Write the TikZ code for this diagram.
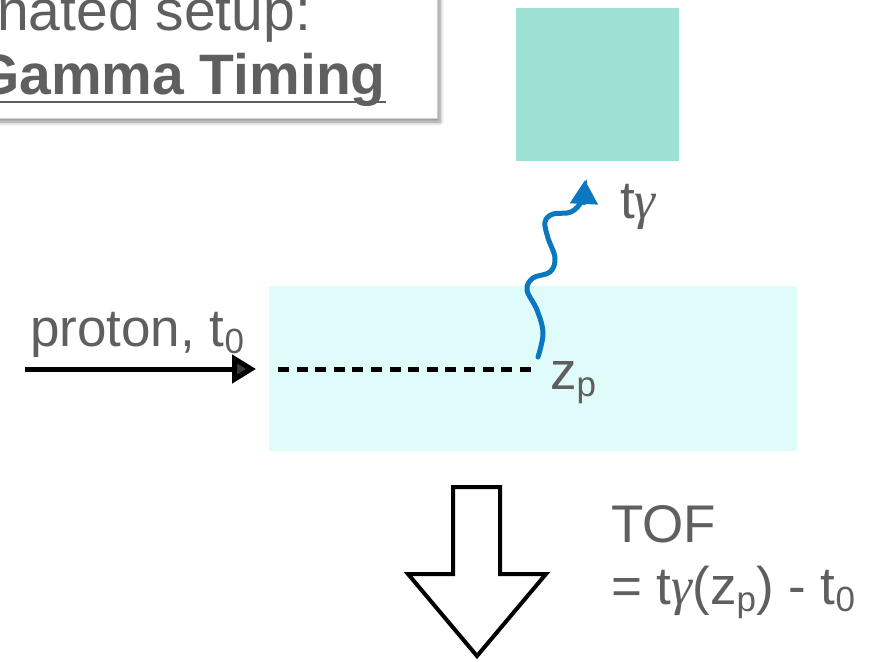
\documentclass[tikz,border=0pt]{standalone}
\usepackage{fontspec}
\setmainfont{Liberation Sans}
\newfontfamily\gfont{Liberation Serif}
\usetikzlibrary{shadows.blur,arrows.meta}
\definecolor{txt}{HTML}{5F5F5F}
\definecolor{detc}{HTML}{9DE0D4}
\definecolor{tgtc}{HTML}{E0FCFA}
\definecolor{wavec}{HTML}{0A78C0}
\newcommand\sbs[1]{\raisebox{-0.14em}{\fontsize{35}{35}\selectfont #1}}
\newcommand\gam{{\gfont\itshape γ}}
\tikzset{
  lbl/.style={text=txt, inner sep=0pt, anchor=base west, font=\fontsize{53}{60}\selectfont},
  ttl/.style={text=txt, inner sep=0pt, font=\fontsize{57}{64}\selectfont},
  blockfill/.style={inner sep=0pt, draw=none},
}
\begin{document}
\begin{tikzpicture}[x=1pt,y=-1pt]
\useasboundingbox (0,0) rectangle (883,661);
% title box
\path[fill=white, draw=black!18, line width=1pt,
  blur shadow={shadow xshift=3pt, shadow yshift=-4pt, shadow blur radius=4pt, shadow blur steps=6, shadow opacity=45}]
  (-30,-30) rectangle (437,118);
\node[ttl, anchor=base west] (t1) at (-3,31) {nated setup:};
\node[ttl, anchor=base east, font=\fontsize{57}{64}\selectfont\bfseries] (t2) at (386,94) {Gamma Timing};
\draw[txt, line width=2.5pt] ([yshift=-8pt]t2.base west) -- ([yshift=-8pt]t2.base east);
% detector and target
\node[blockfill, fill=detc, minimum width=163pt, minimum height=153pt] (det) at (597.5,84.5) {};
\node[blockfill, fill=tgtc, minimum width=528pt, minimum height=165pt] (tgt) at (533,368.5) {};
% proton arrow
\coordinate (pstart) at (25,369);
\coordinate (ptip) at (256,369);
\draw[line width=5pt, -{Triangle[length=24pt,width=28pt]}] (pstart) -- (ptip);
\node[lbl] (plabel) at (30,346) {proton, t\sbs{0}};
% dashed path
\coordinate (dstart) at (278,369);
\coordinate (zp) at (538,369);
\draw[line width=5pt, dash pattern=on 11pt off 7.6pt] (dstart) -- (zp);
\node[lbl] (zplabel) at (550,389) {z\sbs{p}};
% gamma wave
\coordinate (w0) at (538,357);
\coordinate (wtip) at (585,180);
\draw[wavec, line width=5pt, line cap=round, -{Triangle[length=24pt,width=27pt]}]
  plot[smooth, tension=0.6] coordinates {(w0) (543,333) (537,310) (527,290) (533,278) (550,272) (555,258) (548,238) (545,222) (553,214) (571,212) (582,200) (wtip)};
\node[lbl] (tglabel) at (620,218) {t\gam};
% hollow arrow
\draw[line width=4pt, line join=miter, fill=white]
  (453,487) -- (500,487) -- (500,574) -- (546,574) -- (477,656) -- (408,574) -- (453,574) -- cycle;
\node[lbl] (tof) at (611,542) {TOF};
\node[lbl] (form) at (611,604) {= t\gam(z\sbs{p}) - t\sbs{0}};
\end{tikzpicture}
\end{document}
